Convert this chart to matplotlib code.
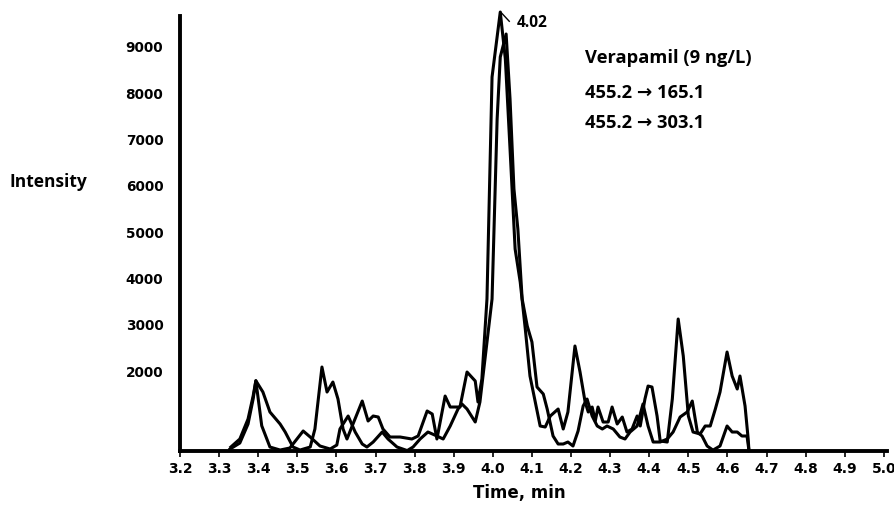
import matplotlib.pyplot as plt

# MRM traces for verapamil, two transitions (time in min, intensity in counts)
t_165 = [3.330, 3.353, 3.374, 3.387, 3.394, 3.412, 3.430, 3.456, 3.469, 3.489,
         3.507, 3.533, 3.545, 3.563, 3.576, 3.591, 3.604, 3.617, 3.627, 3.666,
         3.681, 3.694, 3.707, 3.719, 3.737, 3.763, 3.793, 3.809, 3.832, 3.845,
         3.857, 3.878, 3.891, 3.916, 3.934, 3.955, 3.962, 3.972, 3.985, 3.998,
         4.019, 4.032, 4.044, 4.057, 4.070, 4.083, 4.095, 4.121, 4.134, 4.147,
         4.167, 4.180, 4.192, 4.210, 4.223, 4.236, 4.244, 4.254, 4.262, 4.269,
         4.282, 4.295, 4.305, 4.318, 4.331, 4.343, 4.356, 4.369, 4.377, 4.389,
         4.397, 4.407, 4.420, 4.428, 4.446, 4.459, 4.474, 4.487, 4.500, 4.512,
         4.530, 4.543, 4.556, 4.569, 4.581, 4.599, 4.612, 4.625, 4.632, 4.645,
         4.653, 4.655]
i_165 = [337, 510, 942, 1438, 1769, 1525, 1093, 834, 661, 337,
         272, 337, 726, 2065, 1525, 1741, 1374, 726, 510, 1330,
         899, 1007, 985, 726, 553, 553, 510, 575, 1115, 1050,
         510, 1438, 1201, 1201, 1957, 1763, 1309, 1806, 3534, 8329,
         9733, 8718, 6774, 4614, 3901, 2886, 1871, 791, 769, 1007,
         1158, 726, 1093, 2519, 1957, 1309, 1093, 1201, 899, 1201,
         877, 877, 1201, 834, 985, 661, 726, 1007, 791, 1374,
         1654, 1633, 1007, 467, 445, 1374, 3102, 2303, 1007, 661,
         618, 791, 791, 1158, 1525, 2389, 1871, 1590, 1871, 1223,
         510, 260]

t_303 = [3.328, 3.353, 3.374, 3.387, 3.394, 3.409, 3.430, 3.456, 3.481, 3.499,
         3.515, 3.533, 3.558, 3.584, 3.601, 3.609, 3.630, 3.648, 3.666, 3.678,
         3.694, 3.717, 3.732, 3.755, 3.781, 3.796, 3.814, 3.834, 3.857, 3.873,
         3.891, 3.911, 3.921, 3.934, 3.955, 3.967, 3.998, 4.011, 4.019, 4.034,
         4.044, 4.054, 4.064, 4.075, 4.088, 4.100, 4.113, 4.129, 4.139, 4.154,
         4.167, 4.180, 4.192, 4.205, 4.218, 4.231, 4.241, 4.254, 4.267, 4.280,
         4.292, 4.308, 4.325, 4.338, 4.351, 4.369, 4.384, 4.397, 4.410, 4.428,
         4.446, 4.461, 4.479, 4.497, 4.510, 4.523, 4.535, 4.548, 4.563, 4.581,
         4.599, 4.612, 4.625, 4.637, 4.650, 4.655]
i_303 = [294, 423, 834, 1374, 1769, 797, 337, 272, 316, 510,
         683, 553, 359, 294, 380, 726, 1007, 661, 402, 337,
         445, 661, 510, 337, 260, 337, 510, 661, 575, 510,
         791, 1158, 1266, 1158, 877, 1309, 3534, 7422, 8761, 9258,
         7854, 5910, 5046, 3534, 2951, 2605, 1633, 1482, 1158, 575,
         402, 402, 445, 359, 683, 1223, 1374, 1007, 791, 726,
         791, 726, 553, 510, 661, 791, 1266, 791, 445, 445,
         510, 661, 985, 1093, 1330, 661, 575, 359, 270, 359,
         791, 661, 661, 575, 575, 260]

x_ticks = [3.2, 3.3, 3.4, 3.5, 3.6, 3.7, 3.8, 3.9, 4.0, 4.1, 4.2, 4.3,
           4.4, 4.5, 4.6, 4.7, 4.8, 4.9, 5.0]
y_ticks = [2000, 3000, 4000, 5000, 6000, 7000, 8000, 9000]

peak_time = 4.02
peak_height = 9733

fig = plt.figure(figsize=(8.95, 5.06), dpi=100)
ax = fig.add_axes([180 / 895, 54 / 506, 707 / 895, 435 / 506])

ax.plot(t_165, i_165, color='black', linewidth=2.2, clip_on=False)
ax.plot(t_303, i_303, color='black', linewidth=2.2, clip_on=False)

ax.set_xlim(3.2, 5.008)
ax.set_ylim(251, 9647)

for side in ['top', 'right']:
    ax.spines[side].set_visible(False)
for side in ['left', 'bottom']:
    ax.spines[side].set_linewidth(2.8)

ax.set_xticks(x_ticks)
ax.set_xticklabels([f'{v:.1f}' for v in x_ticks])
ax.set_yticks(y_ticks)
ax.set_yticklabels([str(v) for v in y_ticks])
ax.tick_params(axis='x', length=4, width=1.2, pad=3, labelsize=10)
ax.tick_params(axis='y', length=0, pad=12, labelsize=9.8)
for lab in ax.get_xticklabels() + ax.get_yticklabels():
    lab.set_fontweight('bold')
    lab.set_family('DejaVu Sans')

ax.set_xlabel('Time, min', fontsize=12, fontweight='bold',
              family='DejaVu Sans')
ax.xaxis.set_label_coords((519 - 180) / 707, -0.074)

calibri_like = ['Open Sans', 'DejaVu Sans']
fig.text(10 / 895, 1 - 182 / 506, 'Intensity', fontsize=12.5,
         fontweight='bold', family=calibri_like, va='center')

# retention time label on the apex
ax.plot([peak_time, peak_time + 0.022], [peak_height, peak_height - 200],
        color='black', linewidth=1.0, clip_on=False)
ax.text(4.062, 9517, '4.02', fontsize=11.2, fontweight='bold',
        family=calibri_like, va='center')

txt_kw = dict(fontsize=13.2, fontweight='bold',
              family=calibri_like, va='center', ha='left')
ax.text(4.236, 8761, 'Verapamil (9 ng/L)', **txt_kw)
ax.text(4.236, 8005, '455.2 → 165.1', **txt_kw)
ax.text(4.236, 7357, '455.2 → 303.1', **txt_kw)

fig.savefig('out.png', dpi=100)
